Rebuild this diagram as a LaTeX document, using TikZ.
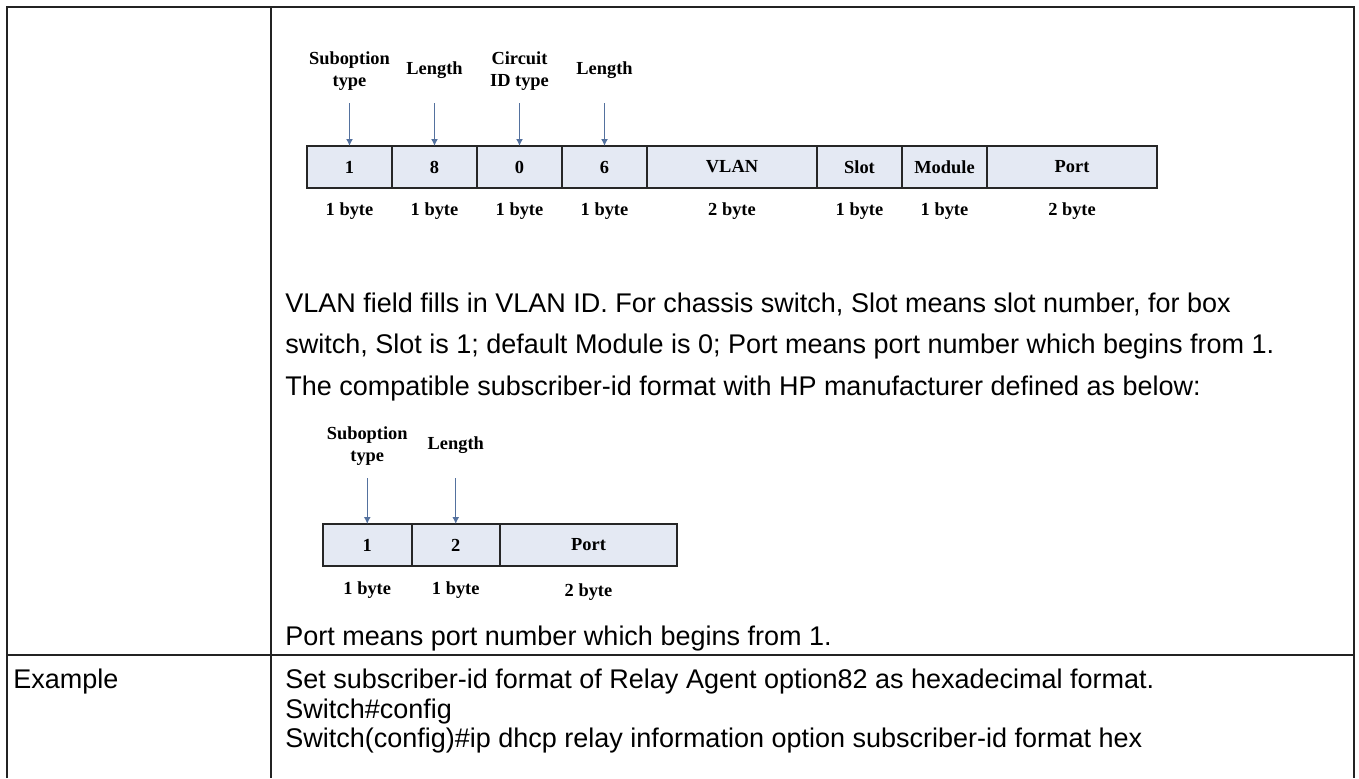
\documentclass[tikz,border=0pt]{standalone}
\usepackage{fontspec}
\setmainfont{Liberation Sans}
\newfontfamily\fieldfont{Liberation Serif}
\usetikzlibrary{positioning,arrows.meta}
\definecolor{cellfill}{RGB}{228,233,243}
\definecolor{pointcol}{RGB}{84,113,158}
\definecolor{rulecol}{RGB}{35,35,35}

\begin{document}
\begin{tikzpicture}[x=0.5pt,y=-0.5pt,
        grid/.style={rulecol,line width=0.8pt},
        body/.style={anchor=base west,inner sep=0pt,font=\fontsize{13.5}{16}\selectfont},
        cell/.style={draw=black!85,fill=cellfill,line width=1pt,minimum width=#1,minimum height=21pt,
            inner sep=0pt,outer sep=0pt,font=\fieldfont\bfseries\fontsize{9.2}{11}\selectfont},
        tag/.style={align=center,inner sep=0pt,minimum height=20pt,font=\fieldfont\bfseries\fontsize{9.2}{11}\selectfont},
        size/.style={inner sep=0pt,font=\fieldfont\bfseries\fontsize{9.2}{11}\selectfont},
        pointer/.style={pointcol,line width=0.7pt,shorten <=6pt,-{Latex[length=3.5pt,width=3.5pt]}}]

    \useasboundingbox (0,0) rectangle (1359,778);

    \draw[grid] (7,778) -- (7,7) -- (1354,7) -- (1354,778);
    \draw[grid] (271,7) -- (271,778);
    \draw[grid] (7,655) -- (1354,655);

    \node[cell=42.5pt] (a1) at (349.5,167) {1};
    \node[cell=42.5pt,right=0pt of a1] (a2) {8};
    \node[cell=42.5pt,right=0pt of a2] (a3) {0};
    \node[cell=42.5pt,right=0pt of a3] (a4) {6};
    \node[cell=85pt,right=0pt of a4] (a5) {VLAN};
    \node[cell=42.5pt,right=0pt of a5] (a6) {Slot};
    \node[cell=42.5pt,right=0pt of a6] (a7) {Module};
    \node[cell=85pt,right=0pt of a7] (a8) {Port};

    \node[tag,above=27.5pt of a1] (t1) {Suboption\\type};
    \node[tag,above=27.5pt of a2] (t2) {Length};
    \node[tag,above=27.5pt of a3] (t3) {Circuit\\ID type};
    \node[tag,above=27.5pt of a4] (t4) {Length};
    \draw[pointer] (t1) -- (a1);
    \draw[pointer] (t2) -- (a2);
    \draw[pointer] (t3) -- (a3);
    \draw[pointer] (t4) -- (a4);

    \node[size,below=7pt of a1] (s1) {1 byte};
    \node[size,below=7pt of a2] (s2) {1 byte};
    \node[size,below=7pt of a3] (s3) {1 byte};
    \node[size,below=7pt of a4] (s4) {1 byte};
    \node[size,below=7pt of a5] (s5) {2 byte};
    \node[size,below=7pt of a6] (s6) {1 byte};
    \node[size,below=7pt of a7] (s7) {1 byte};
    \node[size,below=7pt of a8] (s8) {2 byte};

    \node[body] (p1) at (285,312) {VLAN field fills in VLAN ID. For chassis switch, Slot means slot number, for box};
    \node[body] (p2) at (285,353) {switch, Slot is 1; default Module is 0; Port means port number which begins from 1.};
    \node[body] (p3) at (285,395) {The compatible subscriber-id format with HP manufacturer defined as below:};

    \node[cell=44.25pt] (b1) at (367.25,545) {1};
    \node[cell=44.25pt,right=0pt of b1] (b2) {2};
    \node[cell=88.5pt,right=0pt of b2] (b3) {Port};

    \node[tag,above=29pt of b1] (u1) {Suboption\\type};
    \node[tag,above=29pt of b2] (u2) {Length};
    \draw[pointer] (u1) -- (b1);
    \draw[pointer] (u2) -- (b2);

    \node[size,below=7.5pt of b1] (z1) {1 byte};
    \node[size,below=7.5pt of b2] (z2) {1 byte};
    \node[size,below=8.5pt of b3] (z3) {2 byte};

    \node[body] (p4) at (285,645) {Port means port number which begins from 1.};

    \node[body] (ex) at (13,688) {Example};
    \node[body] (e1) at (285,688) {Set subscriber-id format of Relay Agent option82 as hexadecimal format.};
    \node[body] (e2) at (285,718) {Switch\#config};
    \node[body] (e3) at (285,747) {Switch(config)\#ip dhcp relay information option subscriber-id format hex};
\end{tikzpicture}
\end{document}
